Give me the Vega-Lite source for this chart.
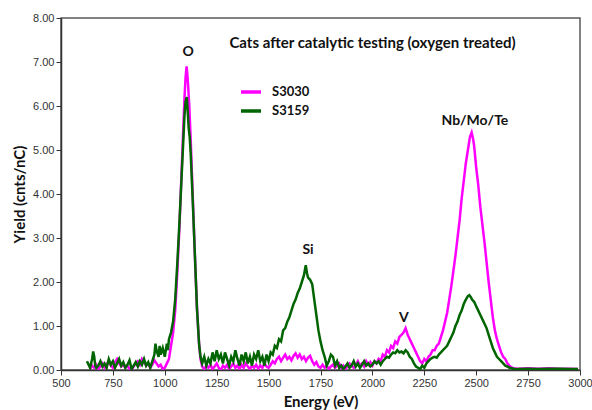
{
  "$schema": "https://vega.github.io/schema/vega-lite/v6.json",
  "width": 519,
  "height": 352,
  "autosize": {"type": "none"},
  "padding": {"left": 61, "top": 18, "right": 12, "bottom": 40},
  "background": "white",
  "config": {
    "view": {"stroke": "#5a5a5a", "strokeWidth": 1.5},
    "axis": {
      "grid": false,
      "labelFlush": false,
      "domainColor": "#333333",
      "domainWidth": 1.5,
      "tickColor": "#333333",
      "tickSize": 5,
      "labelFont": "Liberation Sans",
      "labelFontSize": 11,
      "labelColor": "#333333",
      "titleFont": "Lato",
      "titleFontSize": 15,
      "titleFontWeight": "bold",
      "titleColor": "#111111"
    }
  },
  "title": {
    "text": "Cats after catalytic testing (oxygen treated)",
    "font": "Lato",
    "fontSize": 15,
    "fontWeight": "bold",
    "color": "#111111",
    "anchor": "middle",
    "dx": 52,
    "offset": -39
  },
  "datasets": {
    "spectra": [
      {"E": 640, "Yield": 0.02, "Sample": "S3030"}, {"E": 650, "Yield": 0.1, "Sample": "S3030"}, {"E": 660, "Yield": 0.05, "Sample": "S3030"}, {"E": 670, "Yield": 0.12, "Sample": "S3030"}, {"E": 680, "Yield": 0.02, "Sample": "S3030"}, {"E": 690, "Yield": 0.08, "Sample": "S3030"}, {"E": 700, "Yield": 0.15, "Sample": "S3030"}, {"E": 710, "Yield": 0.05, "Sample": "S3030"}, {"E": 720, "Yield": 0.12, "Sample": "S3030"}, {"E": 730, "Yield": 0.2, "Sample": "S3030"}, {"E": 740, "Yield": 0.1, "Sample": "S3030"}, {"E": 750, "Yield": 0.05, "Sample": "S3030"}, {"E": 760, "Yield": 0.18, "Sample": "S3030"}, {"E": 770, "Yield": 0.25, "Sample": "S3030"}, {"E": 780, "Yield": 0.15, "Sample": "S3030"}, {"E": 790, "Yield": 0.08, "Sample": "S3030"}, {"E": 800, "Yield": 0.12, "Sample": "S3030"}, {"E": 810, "Yield": 0.05, "Sample": "S3030"}, {"E": 820, "Yield": 0.1, "Sample": "S3030"}, {"E": 830, "Yield": 0.02, "Sample": "S3030"}, {"E": 840, "Yield": 0.0, "Sample": "S3030"}, {"E": 850, "Yield": 0.08, "Sample": "S3030"}, {"E": 860, "Yield": 0.15, "Sample": "S3030"}, {"E": 870, "Yield": 0.2, "Sample": "S3030"}, {"E": 880, "Yield": 0.12, "Sample": "S3030"}, {"E": 890, "Yield": 0.25, "Sample": "S3030"}, {"E": 900, "Yield": 0.18, "Sample": "S3030"}, {"E": 910, "Yield": 0.1, "Sample": "S3030"}, {"E": 920, "Yield": 0.15, "Sample": "S3030"}, {"E": 930, "Yield": 0.05, "Sample": "S3030"}, {"E": 940, "Yield": 0.12, "Sample": "S3030"}, {"E": 950, "Yield": 0.22, "Sample": "S3030"}, {"E": 960, "Yield": 0.15, "Sample": "S3030"}, {"E": 970, "Yield": 0.08, "Sample": "S3030"}, {"E": 980, "Yield": 0.12, "Sample": "S3030"}, {"E": 990, "Yield": 0.02, "Sample": "S3030"}, {"E": 1000, "Yield": 0.05, "Sample": "S3030"}, {"E": 1010, "Yield": 0.15, "Sample": "S3030"}, {"E": 1020, "Yield": 0.25, "Sample": "S3030"}, {"E": 1030, "Yield": 0.55, "Sample": "S3030"}, {"E": 1040, "Yield": 0.85, "Sample": "S3030"}, {"E": 1050, "Yield": 1.35, "Sample": "S3030"}, {"E": 1060, "Yield": 2.2, "Sample": "S3030"}, {"E": 1070, "Yield": 3.2, "Sample": "S3030"}, {"E": 1080, "Yield": 4.4, "Sample": "S3030"}, {"E": 1090, "Yield": 5.6, "Sample": "S3030"}, {"E": 1095, "Yield": 6.2, "Sample": "S3030"}, {"E": 1100, "Yield": 6.65, "Sample": "S3030"}, {"E": 1105, "Yield": 6.9, "Sample": "S3030"}, {"E": 1108, "Yield": 6.75, "Sample": "S3030"}, {"E": 1112, "Yield": 6.5, "Sample": "S3030"}, {"E": 1118, "Yield": 6.0, "Sample": "S3030"}, {"E": 1125, "Yield": 5.2, "Sample": "S3030"}, {"E": 1135, "Yield": 3.9, "Sample": "S3030"}, {"E": 1145, "Yield": 2.6, "Sample": "S3030"}, {"E": 1155, "Yield": 1.4, "Sample": "S3030"}, {"E": 1165, "Yield": 0.6, "Sample": "S3030"}, {"E": 1172, "Yield": 0.25, "Sample": "S3030"}, {"E": 1180, "Yield": 0.08, "Sample": "S3030"}, {"E": 1190, "Yield": 0.02, "Sample": "S3030"}, {"E": 1200, "Yield": 0.1, "Sample": "S3030"}, {"E": 1210, "Yield": 0.05, "Sample": "S3030"}, {"E": 1220, "Yield": 0.12, "Sample": "S3030"}, {"E": 1230, "Yield": 0.02, "Sample": "S3030"}, {"E": 1240, "Yield": 0.08, "Sample": "S3030"}, {"E": 1250, "Yield": 0.15, "Sample": "S3030"}, {"E": 1260, "Yield": 0.05, "Sample": "S3030"}, {"E": 1270, "Yield": 0.0, "Sample": "S3030"}, {"E": 1280, "Yield": 0.1, "Sample": "S3030"}, {"E": 1290, "Yield": 0.05, "Sample": "S3030"}, {"E": 1300, "Yield": 0.12, "Sample": "S3030"}, {"E": 1310, "Yield": 0.02, "Sample": "S3030"}, {"E": 1320, "Yield": 0.08, "Sample": "S3030"}, {"E": 1330, "Yield": 0.15, "Sample": "S3030"}, {"E": 1340, "Yield": 0.05, "Sample": "S3030"}, {"E": 1350, "Yield": 0.1, "Sample": "S3030"}, {"E": 1360, "Yield": 0.02, "Sample": "S3030"}, {"E": 1370, "Yield": 0.12, "Sample": "S3030"}, {"E": 1380, "Yield": 0.05, "Sample": "S3030"}, {"E": 1390, "Yield": 0.15, "Sample": "S3030"}, {"E": 1400, "Yield": 0.08, "Sample": "S3030"}, {"E": 1410, "Yield": 0.02, "Sample": "S3030"}, {"E": 1420, "Yield": 0.1, "Sample": "S3030"}, {"E": 1430, "Yield": 0.05, "Sample": "S3030"}, {"E": 1440, "Yield": 0.12, "Sample": "S3030"}, {"E": 1450, "Yield": 0.03, "Sample": "S3030"}, {"E": 1460, "Yield": 0.1, "Sample": "S3030"}, {"E": 1470, "Yield": 0.05, "Sample": "S3030"}, {"E": 1480, "Yield": 0.15, "Sample": "S3030"}, {"E": 1490, "Yield": 0.08, "Sample": "S3030"}, {"E": 1500, "Yield": 0.05, "Sample": "S3030"}, {"E": 1510, "Yield": 0.12, "Sample": "S3030"}, {"E": 1520, "Yield": 0.2, "Sample": "S3030"}, {"E": 1530, "Yield": 0.15, "Sample": "S3030"}, {"E": 1540, "Yield": 0.25, "Sample": "S3030"}, {"E": 1550, "Yield": 0.3, "Sample": "S3030"}, {"E": 1560, "Yield": 0.2, "Sample": "S3030"}, {"E": 1570, "Yield": 0.28, "Sample": "S3030"}, {"E": 1580, "Yield": 0.35, "Sample": "S3030"}, {"E": 1590, "Yield": 0.25, "Sample": "S3030"}, {"E": 1600, "Yield": 0.3, "Sample": "S3030"}, {"E": 1610, "Yield": 0.22, "Sample": "S3030"}, {"E": 1620, "Yield": 0.32, "Sample": "S3030"}, {"E": 1630, "Yield": 0.38, "Sample": "S3030"}, {"E": 1640, "Yield": 0.28, "Sample": "S3030"}, {"E": 1650, "Yield": 0.35, "Sample": "S3030"}, {"E": 1660, "Yield": 0.25, "Sample": "S3030"}, {"E": 1670, "Yield": 0.3, "Sample": "S3030"}, {"E": 1680, "Yield": 0.2, "Sample": "S3030"}, {"E": 1690, "Yield": 0.28, "Sample": "S3030"}, {"E": 1700, "Yield": 0.32, "Sample": "S3030"}, {"E": 1710, "Yield": 0.2, "Sample": "S3030"}, {"E": 1720, "Yield": 0.12, "Sample": "S3030"}, {"E": 1730, "Yield": 0.18, "Sample": "S3030"}, {"E": 1740, "Yield": 0.08, "Sample": "S3030"}, {"E": 1750, "Yield": 0.05, "Sample": "S3030"}, {"E": 1760, "Yield": 0.12, "Sample": "S3030"}, {"E": 1770, "Yield": 0.05, "Sample": "S3030"}, {"E": 1780, "Yield": 0.1, "Sample": "S3030"}, {"E": 1790, "Yield": 0.02, "Sample": "S3030"}, {"E": 1800, "Yield": 0.08, "Sample": "S3030"}, {"E": 1810, "Yield": 0.12, "Sample": "S3030"}, {"E": 1820, "Yield": 0.05, "Sample": "S3030"}, {"E": 1830, "Yield": 0.1, "Sample": "S3030"}, {"E": 1840, "Yield": 0.15, "Sample": "S3030"}, {"E": 1850, "Yield": 0.05, "Sample": "S3030"}, {"E": 1860, "Yield": 0.1, "Sample": "S3030"}, {"E": 1870, "Yield": 0.02, "Sample": "S3030"}, {"E": 1880, "Yield": 0.08, "Sample": "S3030"}, {"E": 1890, "Yield": 0.15, "Sample": "S3030"}, {"E": 1900, "Yield": 0.1, "Sample": "S3030"}, {"E": 1910, "Yield": 0.05, "Sample": "S3030"}, {"E": 1920, "Yield": 0.12, "Sample": "S3030"}, {"E": 1930, "Yield": 0.2, "Sample": "S3030"}, {"E": 1940, "Yield": 0.1, "Sample": "S3030"}, {"E": 1950, "Yield": 0.15, "Sample": "S3030"}, {"E": 1960, "Yield": 0.08, "Sample": "S3030"}, {"E": 1970, "Yield": 0.2, "Sample": "S3030"}, {"E": 1980, "Yield": 0.12, "Sample": "S3030"}, {"E": 1990, "Yield": 0.18, "Sample": "S3030"}, {"E": 2000, "Yield": 0.1, "Sample": "S3030"}, {"E": 2010, "Yield": 0.2, "Sample": "S3030"}, {"E": 2020, "Yield": 0.15, "Sample": "S3030"}, {"E": 2030, "Yield": 0.25, "Sample": "S3030"}, {"E": 2040, "Yield": 0.2, "Sample": "S3030"}, {"E": 2050, "Yield": 0.35, "Sample": "S3030"}, {"E": 2060, "Yield": 0.3, "Sample": "S3030"}, {"E": 2070, "Yield": 0.45, "Sample": "S3030"}, {"E": 2080, "Yield": 0.4, "Sample": "S3030"}, {"E": 2090, "Yield": 0.55, "Sample": "S3030"}, {"E": 2100, "Yield": 0.5, "Sample": "S3030"}, {"E": 2110, "Yield": 0.65, "Sample": "S3030"}, {"E": 2120, "Yield": 0.6, "Sample": "S3030"}, {"E": 2130, "Yield": 0.75, "Sample": "S3030"}, {"E": 2140, "Yield": 0.8, "Sample": "S3030"}, {"E": 2150, "Yield": 0.85, "Sample": "S3030"}, {"E": 2160, "Yield": 0.95, "Sample": "S3030"}, {"E": 2170, "Yield": 0.8, "Sample": "S3030"}, {"E": 2180, "Yield": 0.7, "Sample": "S3030"}, {"E": 2190, "Yield": 0.6, "Sample": "S3030"}, {"E": 2200, "Yield": 0.5, "Sample": "S3030"}, {"E": 2210, "Yield": 0.4, "Sample": "S3030"}, {"E": 2220, "Yield": 0.3, "Sample": "S3030"}, {"E": 2230, "Yield": 0.2, "Sample": "S3030"}, {"E": 2240, "Yield": 0.15, "Sample": "S3030"}, {"E": 2250, "Yield": 0.25, "Sample": "S3030"}, {"E": 2260, "Yield": 0.2, "Sample": "S3030"}, {"E": 2270, "Yield": 0.3, "Sample": "S3030"}, {"E": 2280, "Yield": 0.35, "Sample": "S3030"}, {"E": 2290, "Yield": 0.45, "Sample": "S3030"}, {"E": 2300, "Yield": 0.45, "Sample": "S3030"}, {"E": 2310, "Yield": 0.55, "Sample": "S3030"}, {"E": 2320, "Yield": 0.6, "Sample": "S3030"}, {"E": 2330, "Yield": 0.75, "Sample": "S3030"}, {"E": 2340, "Yield": 0.9, "Sample": "S3030"}, {"E": 2350, "Yield": 1.1, "Sample": "S3030"}, {"E": 2360, "Yield": 1.3, "Sample": "S3030"}, {"E": 2370, "Yield": 1.6, "Sample": "S3030"}, {"E": 2380, "Yield": 1.9, "Sample": "S3030"}, {"E": 2390, "Yield": 2.25, "Sample": "S3030"}, {"E": 2400, "Yield": 2.6, "Sample": "S3030"}, {"E": 2410, "Yield": 3.0, "Sample": "S3030"}, {"E": 2420, "Yield": 3.4, "Sample": "S3030"}, {"E": 2430, "Yield": 3.9, "Sample": "S3030"}, {"E": 2440, "Yield": 4.3, "Sample": "S3030"}, {"E": 2450, "Yield": 4.7, "Sample": "S3030"}, {"E": 2460, "Yield": 5.0, "Sample": "S3030"}, {"E": 2470, "Yield": 5.3, "Sample": "S3030"}, {"E": 2478, "Yield": 5.4, "Sample": "S3030"}, {"E": 2485, "Yield": 5.25, "Sample": "S3030"}, {"E": 2490, "Yield": 5.1, "Sample": "S3030"}, {"E": 2500, "Yield": 4.6, "Sample": "S3030"}, {"E": 2510, "Yield": 4.2, "Sample": "S3030"}, {"E": 2520, "Yield": 3.7, "Sample": "S3030"}, {"E": 2530, "Yield": 3.3, "Sample": "S3030"}, {"E": 2540, "Yield": 2.9, "Sample": "S3030"}, {"E": 2550, "Yield": 2.45, "Sample": "S3030"}, {"E": 2560, "Yield": 2.0, "Sample": "S3030"}, {"E": 2570, "Yield": 1.6, "Sample": "S3030"}, {"E": 2580, "Yield": 1.2, "Sample": "S3030"}, {"E": 2590, "Yield": 0.9, "Sample": "S3030"}, {"E": 2600, "Yield": 0.7, "Sample": "S3030"}, {"E": 2610, "Yield": 0.55, "Sample": "S3030"}, {"E": 2620, "Yield": 0.4, "Sample": "S3030"}, {"E": 2630, "Yield": 0.3, "Sample": "S3030"}, {"E": 2640, "Yield": 0.25, "Sample": "S3030"}, {"E": 2650, "Yield": 0.15, "Sample": "S3030"}, {"E": 2660, "Yield": 0.1, "Sample": "S3030"}, {"E": 2670, "Yield": 0.06, "Sample": "S3030"}, {"E": 2680, "Yield": 0.04, "Sample": "S3030"}, {"E": 2700, "Yield": 0.03, "Sample": "S3030"}, {"E": 2750, "Yield": 0.04, "Sample": "S3030"}, {"E": 2800, "Yield": 0.03, "Sample": "S3030"}, {"E": 2850, "Yield": 0.04, "Sample": "S3030"}, {"E": 2900, "Yield": 0.03, "Sample": "S3030"}, {"E": 2950, "Yield": 0.03, "Sample": "S3030"}, {"E": 2990, "Yield": 0.02, "Sample": "S3030"},
      {"E": 625, "Yield": 0.2, "Sample": "S3159"}, {"E": 630, "Yield": 0.15, "Sample": "S3159"}, {"E": 640, "Yield": 0.05, "Sample": "S3159"}, {"E": 650, "Yield": 0.25, "Sample": "S3159"}, {"E": 655, "Yield": 0.42, "Sample": "S3159"}, {"E": 660, "Yield": 0.3, "Sample": "S3159"}, {"E": 665, "Yield": 0.1, "Sample": "S3159"}, {"E": 670, "Yield": 0.05, "Sample": "S3159"}, {"E": 680, "Yield": 0.1, "Sample": "S3159"}, {"E": 690, "Yield": 0.2, "Sample": "S3159"}, {"E": 700, "Yield": 0.08, "Sample": "S3159"}, {"E": 710, "Yield": 0.15, "Sample": "S3159"}, {"E": 720, "Yield": 0.05, "Sample": "S3159"}, {"E": 730, "Yield": 0.25, "Sample": "S3159"}, {"E": 740, "Yield": 0.12, "Sample": "S3159"}, {"E": 750, "Yield": 0.2, "Sample": "S3159"}, {"E": 760, "Yield": 0.05, "Sample": "S3159"}, {"E": 770, "Yield": 0.15, "Sample": "S3159"}, {"E": 780, "Yield": 0.25, "Sample": "S3159"}, {"E": 790, "Yield": 0.1, "Sample": "S3159"}, {"E": 800, "Yield": 0.18, "Sample": "S3159"}, {"E": 810, "Yield": 0.05, "Sample": "S3159"}, {"E": 820, "Yield": 0.12, "Sample": "S3159"}, {"E": 830, "Yield": 0.22, "Sample": "S3159"}, {"E": 840, "Yield": 0.02, "Sample": "S3159"}, {"E": 850, "Yield": 0.1, "Sample": "S3159"}, {"E": 860, "Yield": 0.18, "Sample": "S3159"}, {"E": 870, "Yield": 0.08, "Sample": "S3159"}, {"E": 880, "Yield": 0.2, "Sample": "S3159"}, {"E": 890, "Yield": 0.12, "Sample": "S3159"}, {"E": 900, "Yield": 0.25, "Sample": "S3159"}, {"E": 910, "Yield": 0.1, "Sample": "S3159"}, {"E": 920, "Yield": 0.18, "Sample": "S3159"}, {"E": 930, "Yield": 0.05, "Sample": "S3159"}, {"E": 940, "Yield": 0.2, "Sample": "S3159"}, {"E": 950, "Yield": 0.35, "Sample": "S3159"}, {"E": 955, "Yield": 0.6, "Sample": "S3159"}, {"E": 960, "Yield": 0.45, "Sample": "S3159"}, {"E": 970, "Yield": 0.3, "Sample": "S3159"}, {"E": 975, "Yield": 0.55, "Sample": "S3159"}, {"E": 980, "Yield": 0.35, "Sample": "S3159"}, {"E": 990, "Yield": 0.5, "Sample": "S3159"}, {"E": 1000, "Yield": 0.3, "Sample": "S3159"}, {"E": 1010, "Yield": 0.6, "Sample": "S3159"}, {"E": 1015, "Yield": 0.45, "Sample": "S3159"}, {"E": 1020, "Yield": 0.7, "Sample": "S3159"}, {"E": 1030, "Yield": 0.85, "Sample": "S3159"}, {"E": 1040, "Yield": 1.1, "Sample": "S3159"}, {"E": 1050, "Yield": 1.6, "Sample": "S3159"}, {"E": 1060, "Yield": 2.4, "Sample": "S3159"}, {"E": 1070, "Yield": 3.3, "Sample": "S3159"}, {"E": 1080, "Yield": 4.3, "Sample": "S3159"}, {"E": 1090, "Yield": 5.3, "Sample": "S3159"}, {"E": 1095, "Yield": 5.8, "Sample": "S3159"}, {"E": 1100, "Yield": 6.1, "Sample": "S3159"}, {"E": 1106, "Yield": 6.2, "Sample": "S3159"}, {"E": 1110, "Yield": 5.9, "Sample": "S3159"}, {"E": 1115, "Yield": 5.5, "Sample": "S3159"}, {"E": 1120, "Yield": 5.3, "Sample": "S3159"}, {"E": 1125, "Yield": 4.9, "Sample": "S3159"}, {"E": 1135, "Yield": 3.8, "Sample": "S3159"}, {"E": 1145, "Yield": 2.6, "Sample": "S3159"}, {"E": 1155, "Yield": 1.4, "Sample": "S3159"}, {"E": 1165, "Yield": 0.6, "Sample": "S3159"}, {"E": 1172, "Yield": 0.3, "Sample": "S3159"}, {"E": 1180, "Yield": 0.15, "Sample": "S3159"}, {"E": 1190, "Yield": 0.3, "Sample": "S3159"}, {"E": 1200, "Yield": 0.1, "Sample": "S3159"}, {"E": 1210, "Yield": 0.25, "Sample": "S3159"}, {"E": 1220, "Yield": 0.15, "Sample": "S3159"}, {"E": 1230, "Yield": 0.4, "Sample": "S3159"}, {"E": 1240, "Yield": 0.2, "Sample": "S3159"}, {"E": 1250, "Yield": 0.45, "Sample": "S3159"}, {"E": 1260, "Yield": 0.25, "Sample": "S3159"}, {"E": 1270, "Yield": 0.35, "Sample": "S3159"}, {"E": 1280, "Yield": 0.15, "Sample": "S3159"}, {"E": 1290, "Yield": 0.4, "Sample": "S3159"}, {"E": 1300, "Yield": 0.25, "Sample": "S3159"}, {"E": 1310, "Yield": 0.1, "Sample": "S3159"}, {"E": 1320, "Yield": 0.3, "Sample": "S3159"}, {"E": 1330, "Yield": 0.2, "Sample": "S3159"}, {"E": 1340, "Yield": 0.45, "Sample": "S3159"}, {"E": 1350, "Yield": 0.25, "Sample": "S3159"}, {"E": 1360, "Yield": 0.1, "Sample": "S3159"}, {"E": 1370, "Yield": 0.35, "Sample": "S3159"}, {"E": 1380, "Yield": 0.2, "Sample": "S3159"}, {"E": 1390, "Yield": 0.4, "Sample": "S3159"}, {"E": 1400, "Yield": 0.15, "Sample": "S3159"}, {"E": 1410, "Yield": 0.3, "Sample": "S3159"}, {"E": 1420, "Yield": 0.1, "Sample": "S3159"}, {"E": 1430, "Yield": 0.35, "Sample": "S3159"}, {"E": 1440, "Yield": 0.25, "Sample": "S3159"}, {"E": 1450, "Yield": 0.45, "Sample": "S3159"}, {"E": 1460, "Yield": 0.2, "Sample": "S3159"}, {"E": 1470, "Yield": 0.3, "Sample": "S3159"}, {"E": 1480, "Yield": 0.1, "Sample": "S3159"}, {"E": 1490, "Yield": 0.35, "Sample": "S3159"}, {"E": 1500, "Yield": 0.2, "Sample": "S3159"}, {"E": 1510, "Yield": 0.4, "Sample": "S3159"}, {"E": 1520, "Yield": 0.35, "Sample": "S3159"}, {"E": 1530, "Yield": 0.55, "Sample": "S3159"}, {"E": 1540, "Yield": 0.5, "Sample": "S3159"}, {"E": 1550, "Yield": 0.7, "Sample": "S3159"}, {"E": 1560, "Yield": 0.65, "Sample": "S3159"}, {"E": 1570, "Yield": 0.9, "Sample": "S3159"}, {"E": 1580, "Yield": 0.95, "Sample": "S3159"}, {"E": 1590, "Yield": 1.1, "Sample": "S3159"}, {"E": 1600, "Yield": 1.2, "Sample": "S3159"}, {"E": 1610, "Yield": 1.35, "Sample": "S3159"}, {"E": 1620, "Yield": 1.5, "Sample": "S3159"}, {"E": 1630, "Yield": 1.6, "Sample": "S3159"}, {"E": 1640, "Yield": 1.75, "Sample": "S3159"}, {"E": 1650, "Yield": 1.85, "Sample": "S3159"}, {"E": 1660, "Yield": 2.0, "Sample": "S3159"}, {"E": 1670, "Yield": 2.15, "Sample": "S3159"}, {"E": 1679, "Yield": 2.38, "Sample": "S3159"}, {"E": 1685, "Yield": 2.2, "Sample": "S3159"}, {"E": 1690, "Yield": 2.1, "Sample": "S3159"}, {"E": 1700, "Yield": 2.05, "Sample": "S3159"}, {"E": 1710, "Yield": 1.95, "Sample": "S3159"}, {"E": 1720, "Yield": 1.6, "Sample": "S3159"}, {"E": 1730, "Yield": 1.25, "Sample": "S3159"}, {"E": 1740, "Yield": 0.9, "Sample": "S3159"}, {"E": 1750, "Yield": 0.65, "Sample": "S3159"}, {"E": 1760, "Yield": 0.45, "Sample": "S3159"}, {"E": 1770, "Yield": 0.3, "Sample": "S3159"}, {"E": 1780, "Yield": 0.1, "Sample": "S3159"}, {"E": 1790, "Yield": 0.2, "Sample": "S3159"}, {"E": 1800, "Yield": 0.35, "Sample": "S3159"}, {"E": 1810, "Yield": 0.3, "Sample": "S3159"}, {"E": 1820, "Yield": 0.1, "Sample": "S3159"}, {"E": 1830, "Yield": 0.2, "Sample": "S3159"}, {"E": 1840, "Yield": 0.05, "Sample": "S3159"}, {"E": 1850, "Yield": 0.1, "Sample": "S3159"}, {"E": 1860, "Yield": 0.02, "Sample": "S3159"}, {"E": 1870, "Yield": 0.08, "Sample": "S3159"}, {"E": 1880, "Yield": 0.15, "Sample": "S3159"}, {"E": 1890, "Yield": 0.05, "Sample": "S3159"}, {"E": 1900, "Yield": 0.1, "Sample": "S3159"}, {"E": 1910, "Yield": 0.2, "Sample": "S3159"}, {"E": 1920, "Yield": 0.08, "Sample": "S3159"}, {"E": 1930, "Yield": 0.15, "Sample": "S3159"}, {"E": 1940, "Yield": 0.05, "Sample": "S3159"}, {"E": 1950, "Yield": 0.12, "Sample": "S3159"}, {"E": 1960, "Yield": 0.2, "Sample": "S3159"}, {"E": 1970, "Yield": 0.1, "Sample": "S3159"}, {"E": 1980, "Yield": 0.15, "Sample": "S3159"}, {"E": 1990, "Yield": 0.08, "Sample": "S3159"}, {"E": 2000, "Yield": 0.12, "Sample": "S3159"}, {"E": 2010, "Yield": 0.2, "Sample": "S3159"}, {"E": 2020, "Yield": 0.15, "Sample": "S3159"}, {"E": 2030, "Yield": 0.2, "Sample": "S3159"}, {"E": 2040, "Yield": 0.12, "Sample": "S3159"}, {"E": 2050, "Yield": 0.2, "Sample": "S3159"}, {"E": 2060, "Yield": 0.25, "Sample": "S3159"}, {"E": 2070, "Yield": 0.3, "Sample": "S3159"}, {"E": 2080, "Yield": 0.28, "Sample": "S3159"}, {"E": 2090, "Yield": 0.35, "Sample": "S3159"}, {"E": 2100, "Yield": 0.4, "Sample": "S3159"}, {"E": 2110, "Yield": 0.38, "Sample": "S3159"}, {"E": 2120, "Yield": 0.45, "Sample": "S3159"}, {"E": 2130, "Yield": 0.4, "Sample": "S3159"}, {"E": 2140, "Yield": 0.42, "Sample": "S3159"}, {"E": 2150, "Yield": 0.38, "Sample": "S3159"}, {"E": 2160, "Yield": 0.45, "Sample": "S3159"}, {"E": 2170, "Yield": 0.4, "Sample": "S3159"}, {"E": 2180, "Yield": 0.3, "Sample": "S3159"}, {"E": 2190, "Yield": 0.25, "Sample": "S3159"}, {"E": 2200, "Yield": 0.15, "Sample": "S3159"}, {"E": 2210, "Yield": 0.08, "Sample": "S3159"}, {"E": 2220, "Yield": 0.05, "Sample": "S3159"}, {"E": 2230, "Yield": 0.02, "Sample": "S3159"}, {"E": 2240, "Yield": 0.1, "Sample": "S3159"}, {"E": 2250, "Yield": 0.05, "Sample": "S3159"}, {"E": 2260, "Yield": 0.15, "Sample": "S3159"}, {"E": 2270, "Yield": 0.2, "Sample": "S3159"}, {"E": 2280, "Yield": 0.25, "Sample": "S3159"}, {"E": 2290, "Yield": 0.28, "Sample": "S3159"}, {"E": 2300, "Yield": 0.3, "Sample": "S3159"}, {"E": 2310, "Yield": 0.28, "Sample": "S3159"}, {"E": 2320, "Yield": 0.35, "Sample": "S3159"}, {"E": 2330, "Yield": 0.4, "Sample": "S3159"}, {"E": 2340, "Yield": 0.45, "Sample": "S3159"}, {"E": 2350, "Yield": 0.5, "Sample": "S3159"}, {"E": 2360, "Yield": 0.55, "Sample": "S3159"}, {"E": 2370, "Yield": 0.65, "Sample": "S3159"}, {"E": 2380, "Yield": 0.75, "Sample": "S3159"}, {"E": 2390, "Yield": 0.85, "Sample": "S3159"}, {"E": 2400, "Yield": 1.0, "Sample": "S3159"}, {"E": 2410, "Yield": 1.1, "Sample": "S3159"}, {"E": 2420, "Yield": 1.25, "Sample": "S3159"}, {"E": 2430, "Yield": 1.35, "Sample": "S3159"}, {"E": 2440, "Yield": 1.5, "Sample": "S3159"}, {"E": 2450, "Yield": 1.6, "Sample": "S3159"}, {"E": 2460, "Yield": 1.68, "Sample": "S3159"}, {"E": 2467, "Yield": 1.7, "Sample": "S3159"}, {"E": 2475, "Yield": 1.65, "Sample": "S3159"}, {"E": 2480, "Yield": 1.6, "Sample": "S3159"}, {"E": 2490, "Yield": 1.55, "Sample": "S3159"}, {"E": 2500, "Yield": 1.45, "Sample": "S3159"}, {"E": 2510, "Yield": 1.35, "Sample": "S3159"}, {"E": 2520, "Yield": 1.25, "Sample": "S3159"}, {"E": 2530, "Yield": 1.15, "Sample": "S3159"}, {"E": 2540, "Yield": 1.05, "Sample": "S3159"}, {"E": 2550, "Yield": 0.95, "Sample": "S3159"}, {"E": 2560, "Yield": 0.8, "Sample": "S3159"}, {"E": 2570, "Yield": 0.65, "Sample": "S3159"}, {"E": 2580, "Yield": 0.5, "Sample": "S3159"}, {"E": 2590, "Yield": 0.4, "Sample": "S3159"}, {"E": 2600, "Yield": 0.3, "Sample": "S3159"}, {"E": 2610, "Yield": 0.25, "Sample": "S3159"}, {"E": 2620, "Yield": 0.2, "Sample": "S3159"}, {"E": 2630, "Yield": 0.15, "Sample": "S3159"}, {"E": 2640, "Yield": 0.1, "Sample": "S3159"}, {"E": 2650, "Yield": 0.08, "Sample": "S3159"}, {"E": 2660, "Yield": 0.05, "Sample": "S3159"}, {"E": 2680, "Yield": 0.03, "Sample": "S3159"}, {"E": 2700, "Yield": 0.02, "Sample": "S3159"}, {"E": 2750, "Yield": 0.03, "Sample": "S3159"}, {"E": 2800, "Yield": 0.02, "Sample": "S3159"}, {"E": 2850, "Yield": 0.03, "Sample": "S3159"}, {"E": 2900, "Yield": 0.03, "Sample": "S3159"}, {"E": 2950, "Yield": 0.02, "Sample": "S3159"}, {"E": 2990, "Yield": 0.02, "Sample": "S3159"}
    ],
    "peaks": [
      {"E": 1112, "Yield": 7.23, "label": "O"},
      {"E": 1690, "Yield": 2.73, "label": "Si"},
      {"E": 2152, "Yield": 1.18, "label": "V"},
      {"E": 2494, "Yield": 5.66, "label": "Nb/Mo/Te"}
    ]
  },
  "layer": [
    {
      "data": {"name": "spectra"},
      "mark": {"type": "line", "strokeWidth": 2.5, "clip": true, "interpolate": "linear"},
      "encoding": {
        "x": {
          "field": "E", "type": "quantitative",
          "scale": {"domain": [500, 3000], "nice": false, "zero": false},
          "axis": {"values": [500, 750, 1000, 1250, 1500, 1750, 2000, 2250, 2500, 2750, 3000], "format": "d", "title": "Energy (eV)", "titlePadding": 6}
        },
        "y": {
          "field": "Yield", "type": "quantitative",
          "scale": {"domain": [0, 8], "nice": false},
          "axis": {"values": [0, 1, 2, 3, 4, 5, 6, 7, 8], "format": ".2f", "title": "Yield (cnts/nC)", "titlePadding": 5}
        },
        "color": {
          "field": "Sample", "type": "nominal",
          "scale": {"domain": ["S3030", "S3159"], "range": ["#ff00ff", "#006400"]},
          "legend": {
            "title": null,
            "orient": "none",
            "legendX": 178,
            "legendY": 62,
            "padding": 0,
            "symbolType": "stroke",
            "symbolSize": 400,
            "symbolStrokeWidth": 3.5,
            "labelFont": "Lato",
            "labelFontSize": 13,
            "labelFontWeight": "bold",
            "labelColor": "#111111",
            "labelOffset": 9,
            "rowPadding": 0
          }
        }
      }
    },
    {
      "data": {"name": "peaks"},
      "mark": {"type": "text", "font": "Lato", "fontSize": 14, "fontWeight": "bold", "color": "#111111", "baseline": "middle", "align": "center"},
      "encoding": {
        "x": {"field": "E", "type": "quantitative"},
        "y": {"field": "Yield", "type": "quantitative"},
        "text": {"field": "label"}
      }
    }
  ]
}
